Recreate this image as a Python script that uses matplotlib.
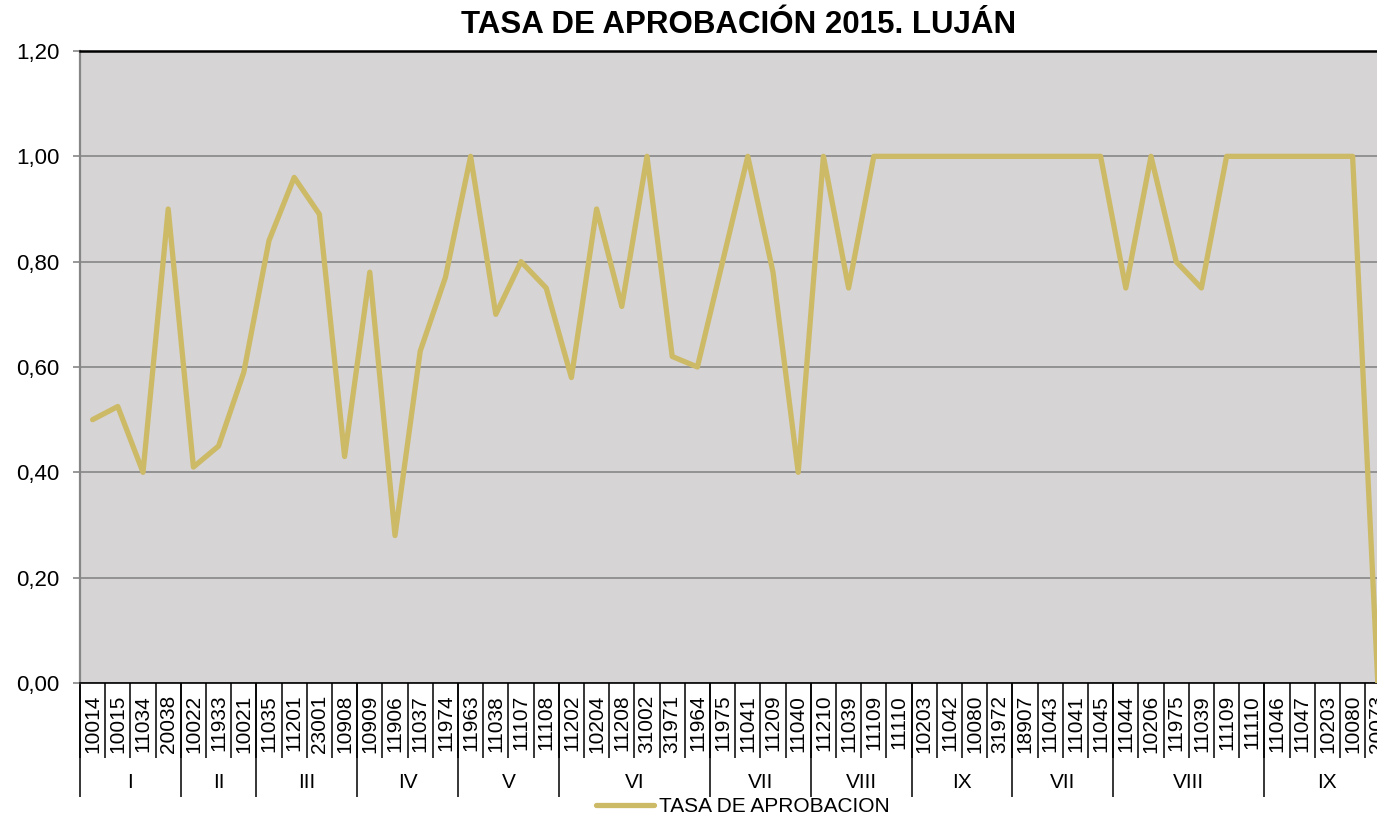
import matplotlib
matplotlib.use('Agg')
import matplotlib.pyplot as plt
from matplotlib.ticker import FuncFormatter, FixedLocator

plt.rcParams['font.family'] = ['Liberation Sans', 'DejaVu Sans']

# Course codes (x categories), in order of appearance
codes = ['10014', '10015', '11034', '20038',
         '10022', '11933', '10021',
         '11035', '11201', '23001', '10908',
         '10909', '11906', '11037', '11974',
         '11963', '11038', '11107', '11108',
         '11202', '10204', '11208', '31002', '31971', '11964',
         '11975', '11041', '11209', '11040',
         '11210', '11039', '11109', '11110',
         '10203', '11042', '10080', '31972',
         '18907', '11043', '11041', '11045',
         '11044', '10206', '11975', '11039', '11109', '11110',
         '11046', '11047', '10203', '10080', '20073']

# Year groups (second row of the x axis)
group_names = ['I', 'II', 'III', 'IV', 'V', 'VI', 'VII', 'VIII', 'IX', 'VII', 'VIII', 'IX']
group_sizes = [4, 3, 4, 4, 4, 6, 4, 4, 4, 4, 6, 5]

# Approval rate per course
tasa = [0.50, 0.525, 0.40, 0.90,
        0.41, 0.45, 0.59,
        0.84, 0.96, 0.89, 0.43,
        0.78, 0.28, 0.63, 0.77,
        1.00, 0.70, 0.80, 0.75,
        0.58, 0.90, 0.715, 1.00, 0.62, 0.60,
        0.80, 1.00, 0.78, 0.40,
        1.00, 0.75, 1.00, 1.00,
        1.00, 1.00, 1.00, 1.00,
        1.00, 1.00, 1.00, 1.00,
        0.75, 1.00, 0.80, 0.75, 1.00, 1.00,
        1.00, 1.00, 1.00, 1.00, 0.00]

W, H = 1377, 819
fig = plt.figure(figsize=(W / 100, H / 100), dpi=100)
# plot area runs past the right edge of the picture, like the reference
ax = fig.add_axes([80 / W, 1 - 683 / H, 52 * 25.2 / W, 632 / H])
ax.set_facecolor('#D6D4D5')

x = list(range(len(codes)))
ax.plot(x, tasa, color='#CDBA67', lw=3.8, solid_joinstyle='round',
        solid_capstyle='round', label='TASA DE APROBACION', zorder=3)

ax.set_xlim(-0.5, len(codes) - 0.5)
ax.set_ylim(0, 1.2)
ax.set_yticks([0, 0.2, 0.4, 0.6, 0.8, 1.0, 1.2])
ax.yaxis.set_major_formatter(FuncFormatter(lambda v, p: f'{v:.2f}'.replace('.', ',')))
ax.grid(axis='y', color='#868686', lw=1.2)
ax.set_axisbelow(True)

# spines
ax.spines['top'].set_color('black')
ax.spines['top'].set_linewidth(1.8)
ax.spines['left'].set_color('#868686')
ax.spines['left'].set_linewidth(1.6)
ax.spines['bottom'].set_color('black')
ax.spines['bottom'].set_linewidth(1.2)
ax.spines['right'].set_visible(False)

ax.tick_params(axis='y', length=5, width=1.2, color='#868686', pad=10, labelsize=16)

# category labels + separators between categories
ax.set_xticks(x)
ax.set_xticklabels(codes, rotation=90, fontsize=15)
ax.tick_params(axis='x', which='major', length=0, pad=8.5)
ax.xaxis.set_minor_locator(FixedLocator([i - 0.5 for i in range(len(codes) + 1)]))
ax.tick_params(axis='x', which='minor', length=54, width=1.1, color='black', direction='out')

# group separators and group names
trans = ax.get_xaxis_transform()
start = 0
bounds = [-0.5]
for name, n in zip(group_names, group_sizes):
    center = start + (n - 1) / 2
    ax.text(center, -100 / 632, name, transform=trans, ha='center', va='center', fontsize=15)
    start += n
    bounds.append(start - 0.5)
ax.vlines(bounds, -114 / 632, 0, transform=trans, color='black', lw=1.1, clip_on=False)

fig.text(739 / W, 1 - 25 / H, 'TASA DE APROBACIÓN 2015. LUJÁN', ha='center', va='center',
         fontsize=22.5, fontweight='bold')

fig.legend(loc='center', bbox_to_anchor=(743 / W, 1 - 807 / H), frameon=False, fontsize=15,
           handlelength=2.75, handletextpad=0.25, borderaxespad=0)

plt.savefig('out.png', dpi=100)
